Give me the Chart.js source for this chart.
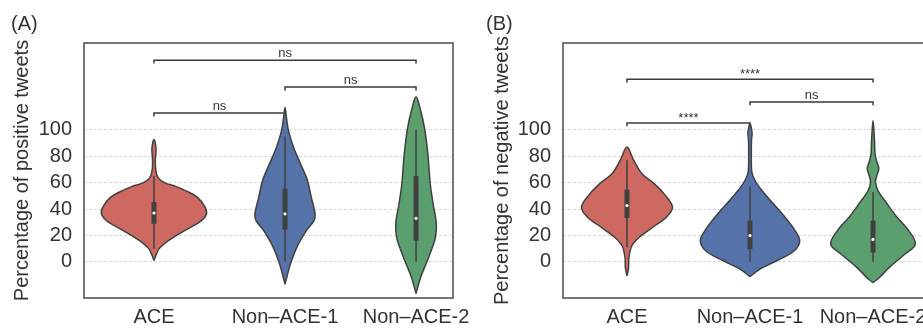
<!DOCTYPE html>
<html>
<head>
<meta charset="utf-8">
<script src="https://cdn.jsdelivr.net/npm/chart.js@4.4.1/dist/chart.umd.min.js"></script>
<style>
    body { margin: 0; background: #fff; }
    #fig { position: relative; width: 923px; height: 329px; overflow: hidden; background: #fff; }
    #fig canvas { position: absolute; top: 0; }
    #grafico-pos { left: 0; }
    #grafico-neg { left: 460px; }
    .painel { position: absolute; top: 11px; font: 20px "Liberation Sans", Arial, sans-serif; line-height: 24px; color: #333; }
</style>
</head>
<body>
<div id="fig">
    <canvas id="grafico-pos" width="480" height="329"></canvas>
    <canvas id="grafico-neg" width="500" height="329"></canvas>
    <div class="painel" style="left: 11px;">(A)</div>
    <div class="painel" style="left: 486px;">(B)</div>
</div>

<script>
const categorias = ['ACE', 'Non–ACE-1', 'Non–ACE-2'];
const ticksY = [0, 20, 40, 60, 80, 100];

const CORES = ['#cd6961', '#5573a8', '#5a9f6d'];

// (A) positive tweets - perfil do violino: nivel (%) e meia largura (em unidades de categoria)
const posAceNivel = [1, 5, 10, 16, 24, 31, 36, 41.5, 49, 54, 57, 60, 64, 70, 78, 85, 90, 92.6];
const posAceLarg  = [0, 0.015, 0.04, 0.11, 0.24, 0.36, 0.40, 0.39, 0.33, 0.24, 0.17, 0.08, 0.03, 0.013, 0.011, 0.016, 0.01, 0];
const posN1Nivel  = [-17, -10, -2, 11, 24, 31, 36, 49, 62, 75, 87, 100, 110, 117];
const posN1Larg   = [0, 0.018, 0.04, 0.09, 0.165, 0.22, 0.23, 0.20, 0.17, 0.115, 0.064, 0.025, 0.01, 0];
const posN2Nivel  = [-24, -12, -2, 8.4, 18.6, 28.8, 44, 59.3, 79.6, 100, 115, 125];
const posN2Larg   = [0, 0.034, 0.074, 0.115, 0.148, 0.155, 0.13, 0.108, 0.092, 0.067, 0.034, 0];

// caixa interna (quartis, mediana, bigodes)
const posQ1 = [28.8, 24.4, 16];
const posQ3 = [45.3, 55.5, 64.9];
const posMediana = [37, 36.4, 33];
const posMin = [10, 0, 0];
const posMax = [65, 95, 100];

// (B) negative tweets
const negAceNivel = [-10.7, -4.4, 3.3, 12.2, 18.6, 26.2, 33.8, 41.5, 51.7, 59.3, 67, 77, 87];
const negAceLarg  = [0, 0.013, 0.016, 0.04, 0.10, 0.21, 0.32, 0.37, 0.30, 0.22, 0.12, 0.054, 0];
const negN1Nivel  = [-11.2, -5.6, 0.8, 8.4, 16, 23.7, 33.8, 44, 54.2, 61.8, 68, 80, 92, 97, 101, 105];
const negN1Larg   = [0, 0.08, 0.217, 0.36, 0.404, 0.366, 0.285, 0.19, 0.095, 0.04, 0.015, 0.011, 0.012, 0.017, 0.012, 0];
const negN2Nivel  = [-15.8, -12, -4.4, 5.9, 13.5, 23.7, 33.8, 44, 54, 60.5, 65, 70.8, 76, 82, 92, 107];
const negN2Larg   = [0, 0.05, 0.13, 0.26, 0.344, 0.29, 0.195, 0.114, 0.04, 0.02, 0.03, 0.047, 0.03, 0.016, 0.012, 0];

const negQ1 = [33.3, 9.7, 7.1];
const negQ3 = [54.7, 31.3, 31.3];
const negMediana = [42.7, 19.8, 17];
const negMin = [11, 0, 0];
const negMax = [77, 57, 53];

// colchetes de significancia
const posDe = [0, 1, 0];
const posAte = [2, 2, 1];
const posAltura = [152.7, 132.4, 112.7];
const posRotulo = ['ns', 'ns', 'ns'];

const negDe = [0, 1, 0];
const negAte = [2, 2, 1];
const negAltura = [138.3, 121.1, 105.2];
const negRotulo = ['****', 'ns', '****'];

Chart.defaults.font.family = '"Liberation Sans", Arial, sans-serif';
Chart.defaults.color = '#333';

function violino(c, niveis, larguras, cor) {
    let pts = [];
    for (let i = 0; i < niveis.length; i++) pts.push({ x: c + larguras[i], y: niveis[i] });
    for (let i = niveis.length - 2; i >= 0; i--) pts.push({ x: c - larguras[i], y: niveis[i] });
    return {
        type: 'line', data: pts,
        borderColor: '#404040', borderWidth: 1.5,
        backgroundColor: cor, fill: 'shape',
        tension: 0.35, pointRadius: 0, order: 3
    };
}

function segmento(c, a, b, largura, ordem) {
    return {
        type: 'line', data: [{ x: c, y: a }, { x: c, y: b }],
        borderColor: '#404040', borderWidth: largura, borderCapStyle: 'butt',
        pointRadius: 0, fill: false, order: ordem
    };
}

function colchete(de, ate, h) {
    const queda = 2.5;
    return {
        type: 'line',
        data: [{ x: de, y: h - queda }, { x: de, y: h }, { x: ate, y: h }, { x: ate, y: h - queda }],
        borderColor: '#3a3a3a', borderWidth: 1.5, pointRadius: 0, fill: false, tension: 0, order: 4
    };
}

const pluginMoldura = {
    id: 'moldura',
    beforeDatasetsDraw(chart) {
        const { ctx, chartArea: a } = chart;
        ctx.save();
        ctx.strokeStyle = '#4a4a4a';
        ctx.lineWidth = 1.5;
        ctx.strokeRect(a.left, a.top, a.right - a.left, a.bottom - a.top);
        ctx.restore();
    }
};

const pluginRotulos = {
    id: 'rotulos',
    afterDatasetsDraw(chart, args, opts) {
        const { ctx, scales: { x, y } } = chart;
        ctx.save();
        ctx.font = '13px "Liberation Sans", Arial, sans-serif';
        ctx.fillStyle = '#333';
        ctx.textAlign = 'center';
        ctx.textBaseline = 'alphabetic';
        for (let i = 0; i < opts.de.length; i++) {
            const xm = x.getPixelForValue((opts.de[i] + opts.ate[i]) / 2);
            const ajuste = opts.rotulo[i] === 'ns' ? 3 : 1;
            ctx.fillText(opts.rotulo[i], xm, y.getPixelForValue(opts.altura[i]) - ajuste);
        }
        ctx.restore();
    }
};

function montarGrafico(id, cfg) {
    let datasets = [];
    for (let i = 0; i < 3; i++) {
        datasets.push(violino(i, cfg.niveis[i], cfg.larguras[i], CORES[i]));
        datasets.push(segmento(i, cfg.min[i], cfg.max[i], 1.5, 2));
        datasets.push(segmento(i, cfg.q1[i], cfg.q3[i], 5, 1));
        datasets.push(colchete(cfg.de[i], cfg.ate[i], cfg.altura[i]));
    }
    datasets.push({
        type: 'scatter',
        data: cfg.mediana.map((m, i) => ({ x: i, y: m })),
        pointRadius: 1.6, pointBackgroundColor: '#ffffff', pointBorderWidth: 0, order: 0
    });

    new Chart(document.getElementById(id), {
        type: 'line',
        data: { datasets: datasets },
        plugins: [pluginMoldura, pluginRotulos],
        options: {
            responsive: false,
            animation: false,
            layout: { padding: { top: 43, right: cfg.padDireita, left: 0, bottom: 0 } },
            plugins: {
                legend: { display: false },
                tooltip: { enabled: false },
                rotulos: { de: cfg.de, ate: cfg.ate, altura: cfg.altura, rotulo: cfg.rotulo }
            },
            scales: {
                x: {
                    type: 'linear', min: cfg.xMin, max: cfg.xMax,
                    grid: { display: false }, border: { display: false },
                    afterBuildTicks: ax => { ax.ticks = [0, 1, 2].map(v => ({ value: v })); },
                    afterFit: ax => { ax.height = 31; ax.paddingLeft = 0; ax.paddingRight = 0; },
                    ticks: {
                        callback: v => categorias[v],
                        font: { size: 20 }, color: '#333', padding: -1,
                        maxRotation: 0, autoSkip: false
                    }
                },
                y: {
                    type: 'linear', min: -27.4, max: 165.8,
                    afterBuildTicks: ax => { ax.ticks = ticksY.map(v => ({ value: v })); },
                    afterFit: ax => { ax.width = cfg.larguraY; },
                    grid: { color: '#d6d6d6', lineWidth: 1, drawTicks: false },
                    border: { display: false, dash: [3, 2] },
                    ticks: { font: { size: 20 }, color: '#333', padding: 12 },
                    title: {
                        display: true, text: cfg.titulo,
                        font: { size: 20 }, color: '#333',
                        padding: { top: cfg.padTitulo, bottom: 0 }
                    }
                }
            }
        }
    });
}

montarGrafico('grafico-pos', {
    niveis: [posAceNivel, posN1Nivel, posN2Nivel],
    larguras: [posAceLarg, posN1Larg, posN2Larg],
    q1: posQ1, q3: posQ3, mediana: posMediana, min: posMin, max: posMax,
    de: posDe, ate: posAte, altura: posAltura, rotulo: posRotulo,
    titulo: 'Percentage of positive tweets',
    xMin: -0.534, xMax: 2.282, larguraY: 84, padDireita: 27, padTitulo: 10.5
});

montarGrafico('grafico-neg', {
    niveis: [negAceNivel, negN1Nivel, negN2Nivel],
    larguras: [negAceLarg, negN1Larg, negN2Larg],
    q1: negQ1, q3: negQ3, mediana: negMediana, min: negMin, max: negMax,
    de: negDe, ate: negAte, altura: negAltura, rotulo: negRotulo,
    titulo: 'Percentage of negative tweets',
    xMin: -0.52, xMax: 2.52, larguraY: 103, padDireita: 23, padTitulo: 30
});
</script>
</body>
</html>
